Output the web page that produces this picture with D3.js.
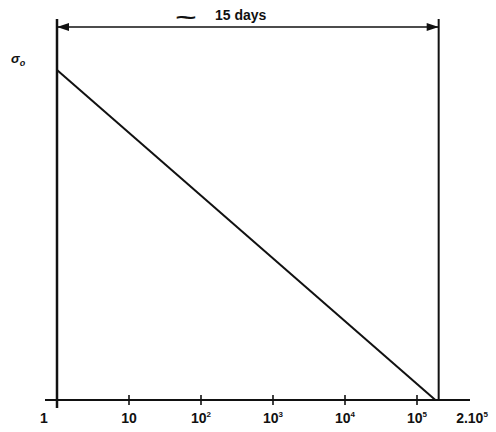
<!DOCTYPE html>
<html><head><meta charset="utf-8">
<script src="https://cdn.jsdelivr.net/npm/d3@7"></script>
<style>body{margin:0;background:#fff}svg{display:block}text{font-family:"Liberation Sans",Arial,sans-serif;font-weight:bold;fill:#111}</style>
</head><body>
<script>
const tickValues = [1, 10, 100, 1000, 10000, 100000];
const tickLabels = ["1", "10", "10", "10", "10", "10"];
const tickExps = ["", "", "2", "3", "4", "5"];
const endValue = 2e5;
const endLabel = ["2.10", "5"];
const lineX = [1, 1.8e5];
const lineY = [1, 0];
const spanLabel = "15 days";
const yLabel = "σ";

const W = 496, H = 432;
const svg = d3.select("body").append("svg").attr("width", W).attr("height", H);
const x = d3.scaleLog().domain([1, 1e5]).range([57, 417]);
const y = d3.scaleLinear().domain([0, 1]).range([400, 70]);
const topY = 19, arrowY = 27;

const g = svg.append("g").attr("stroke", "#111").attr("fill", "none");
g.append("line").attr("x1", 45).attr("x2", 470).attr("y1", y(0)).attr("y2", y(0)).attr("stroke-width", 2);
g.selectAll(".tk").data(tickValues.slice(1)).join("line")
  .attr("x1", d => x(d)).attr("x2", d => x(d)).attr("y1", y(0) - 5).attr("y2", y(0) + 5).attr("stroke-width", 1.6);
g.append("line").attr("x1", x(1)).attr("x2", x(1)).attr("y1", topY).attr("y2", y(0) + 8).attr("stroke-width", 2.5);
g.append("line").attr("x1", x(endValue)).attr("x2", x(endValue)).attr("y1", topY).attr("y2", y(0)).attr("stroke-width", 2);
g.append("line").attr("x1", x(1)).attr("x2", x(endValue)).attr("y1", arrowY).attr("y2", arrowY).attr("stroke-width", 1.5);
svg.append("path").attr("fill", "#111").attr("d", `M${x(1)},${arrowY} l12,-4 l0,8 z`);
svg.append("path").attr("fill", "#111").attr("d", `M${x(endValue)},${arrowY} l-12,-4 l0,8 z`);
g.append("path").datum(lineX.map((v, i) => [v, lineY[i]]))
  .attr("d", d3.line().x(d => x(d[0])).y(d => y(d[1]))).attr("stroke-width", 2);

const lab = svg.selectAll(".lab").data(tickValues).join("text")
  .attr("x", (d, i) => i === 0 ? 44 : x(d)).attr("y", 423).attr("text-anchor", "middle").attr("font-size", 14);
lab.text((d, i) => tickLabels[i]);
lab.append("tspan").attr("dy", -6).attr("font-size", 8).text((d, i) => tickExps[i]);
const el = svg.append("text").attr("x", 472).attr("y", 423).attr("text-anchor", "middle").attr("font-size", 14).text(endLabel[0]);
el.append("tspan").attr("dy", -6).attr("font-size", 8).text(endLabel[1]);

const yl = svg.append("text").attr("x", 11).attr("y", 63).attr("font-size", 13).attr("font-style", "italic").text(yLabel);
yl.append("tspan").attr("dy", 3).attr("font-size", 9).text("o");

svg.append("text").attr("x", 186).attr("y", 24).attr("font-size", 26).attr("font-weight", "normal")
  .attr("text-anchor", "middle").attr("transform", "translate(186,24) scale(1.4,0.8) translate(-186,-24)").text("~");
svg.append("text").attr("x", 215).attr("y", 20).attr("font-size", 14).text(spanLabel);
</script>
</body></html>
